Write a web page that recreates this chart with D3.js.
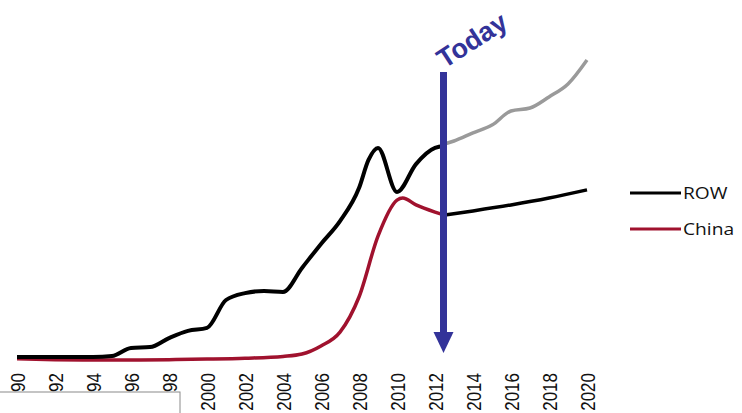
<!DOCTYPE html>
<html>
<head>
<meta charset="utf-8">
<script src="https://cdnjs.cloudflare.com/ajax/libs/d3/7.8.5/d3.min.js"></script>
<style>
    body { margin: 0; background: #fff; }
    svg { display: block; }
</style>
</head>
<body>
<div id="chart"></div>
<script>
// ---- DATA -----------------------
var rowYears = [1990, 1991, 1992, 1993, 1994, 1995, 1996, 1997, 1998, 1999, 2000, 2001, 2002, 2003, 2004, 2005, 2006, 2007, 2008, 2008.5, 2009, 2010, 2011, 2012, 2012.5];
var rowValues = [1.0, 1.0, 1.0, 1.0, 1.0, 1.3, 4.0, 4.3, 7.3, 9.7, 10.7, 20.0, 22.3, 23.0, 22.7, 30.7, 38.7, 46.3, 57.3, 66.7, 70.7, 56.0, 65.3, 70.7, 71.3];

var chinaYears = [1990, 1992, 1994, 1996, 1998, 2000, 2002, 2004, 2005, 2006, 2007, 2008, 2009, 2010, 2010.3, 2011, 2012, 2012.5];
var chinaValues = [0.4, 0.1, 0.0, 0.0, 0.1, 0.3, 0.6, 1.2, 2.0, 4.7, 9.3, 21.0, 41.3, 53.3, 54.0, 51.7, 49.3, 48.3];

var upperYears = [2012.5, 2013, 2014, 2015, 2016, 2017, 2018, 2019, 2020];
var upperValues = [72.0, 73.0, 75.7, 78.3, 83.0, 84.0, 87.7, 92.0, 100.0];

var lowerYears = [2012.5, 2014, 2016, 2018, 2020];
var lowerValues = [48.3, 49.7, 51.7, 54.0, 56.7];

var tickYears = [1990, 1992, 1994, 1996, 1998, 2000, 2002, 2004, 2006, 2008, 2010, 2012, 2014, 2016, 2018, 2020];
var todayYear = 2012.5;
var legendNames = ["ROW", "China"];
var legendColors = ["#000000", "#a0122e"];

// ---- SVG + SCALES -----------------------
var width = 742;
var height = 413;

var svg = d3.select("#chart")
    .append("svg")
    .attr("width", width)
    .attr("height", height);

var x = d3.scaleLinear().domain([1990, 2020]).range([17, 587]);
var y = d3.scaleLinear().domain([0, 100]).range([360, 60]);

function zip(years, values) {
    return years.map((d, i) => ({ year: d, value: values[i] }));
}

var line = d3.line()
    .x(d => x(d.year))
    .y(d => y(d.value))
    .curve(d3.curveMonotoneX);

// ---- LINES -----------------------
svg.append("path").datum(zip(upperYears, upperValues))
    .attr("d", line).attr("fill", "none")
    .attr("stroke", "#9a9a9a").attr("stroke-width", 3.5);

svg.append("path").datum(zip(lowerYears, lowerValues))
    .attr("d", line).attr("fill", "none")
    .attr("stroke", "#000").attr("stroke-width", 3.5);

svg.append("path").datum(zip(chinaYears, chinaValues))
    .attr("d", line).attr("fill", "none")
    .attr("stroke", "#a0122e").attr("stroke-width", 3.5);

svg.append("path").datum(zip(rowYears, rowValues))
    .attr("d", line).attr("fill", "none")
    .attr("stroke", "#000").attr("stroke-width", 4);

// ---- X AXIS LABELS (rotated) -----------------------
svg.selectAll(".tick-label")
    .data(tickYears)
    .enter().append("text")
    .attr("class", "tick-label")
    .attr("transform", d => "translate(" + (x(d) + 1) + ",373) scale(1.2,1) rotate(-90)")
    .attr("dy", "0.36em")
    .attr("text-anchor", "end")
    .style("font-family", "Liberation Sans, Arial, sans-serif")
    .style("font-size", "17px")
    .style("fill", "#111")
    .text(d => d < 2000 ? String(d).slice(2) : String(d));

// bottom left box
svg.append("rect")
    .attr("x", -2).attr("y", 392)
    .attr("width", 182).attr("height", 40)
    .attr("fill", "#fff")
    .attr("stroke", "#8a8a8a")
    .attr("stroke-width", 1);

// ---- TODAY ARROW -----------------------
var ax = x(todayYear) - 1;
svg.append("line")
    .attr("x1", ax).attr("x2", ax)
    .attr("y1", 72).attr("y2", 336)
    .attr("stroke", "#333399").attr("stroke-width", 7);

svg.append("path")
    .attr("d", "M" + (ax - 10) + ",332 L" + (ax + 10) + ",332 L" + ax + ",353 Z")
    .attr("fill", "#333399");

svg.append("text")
    .attr("transform", "translate(" + (ax + 1) + ",69) rotate(-33)")
    .style("font-family", "Liberation Sans, Arial, sans-serif")
    .style("font-weight", "bold")
    .style("font-size", "27px")
    .style("fill", "#333399")
    .text("Today");

// ---- LEGEND -----------------------
var legend = svg.selectAll(".legend")
    .data(legendNames)
    .enter().append("g")
    .attr("class", "legend")
    .attr("transform", (d, i) => "translate(630," + (193 + i * 36) + ")");

legend.append("line")
    .attr("x1", 0).attr("x2", 51)
    .attr("y1", 0).attr("y2", 0)
    .attr("stroke", (d, i) => legendColors[i])
    .attr("stroke-width", 3);

legend.append("text")
    .attr("transform", "translate(53,6) scale(1.2,1)")
    .style("font-family", "Open Sans, sans-serif")
    .style("font-size", "16px")
    .style("fill", "#111")
    .text(d => d);
</script>
</body>
</html>
